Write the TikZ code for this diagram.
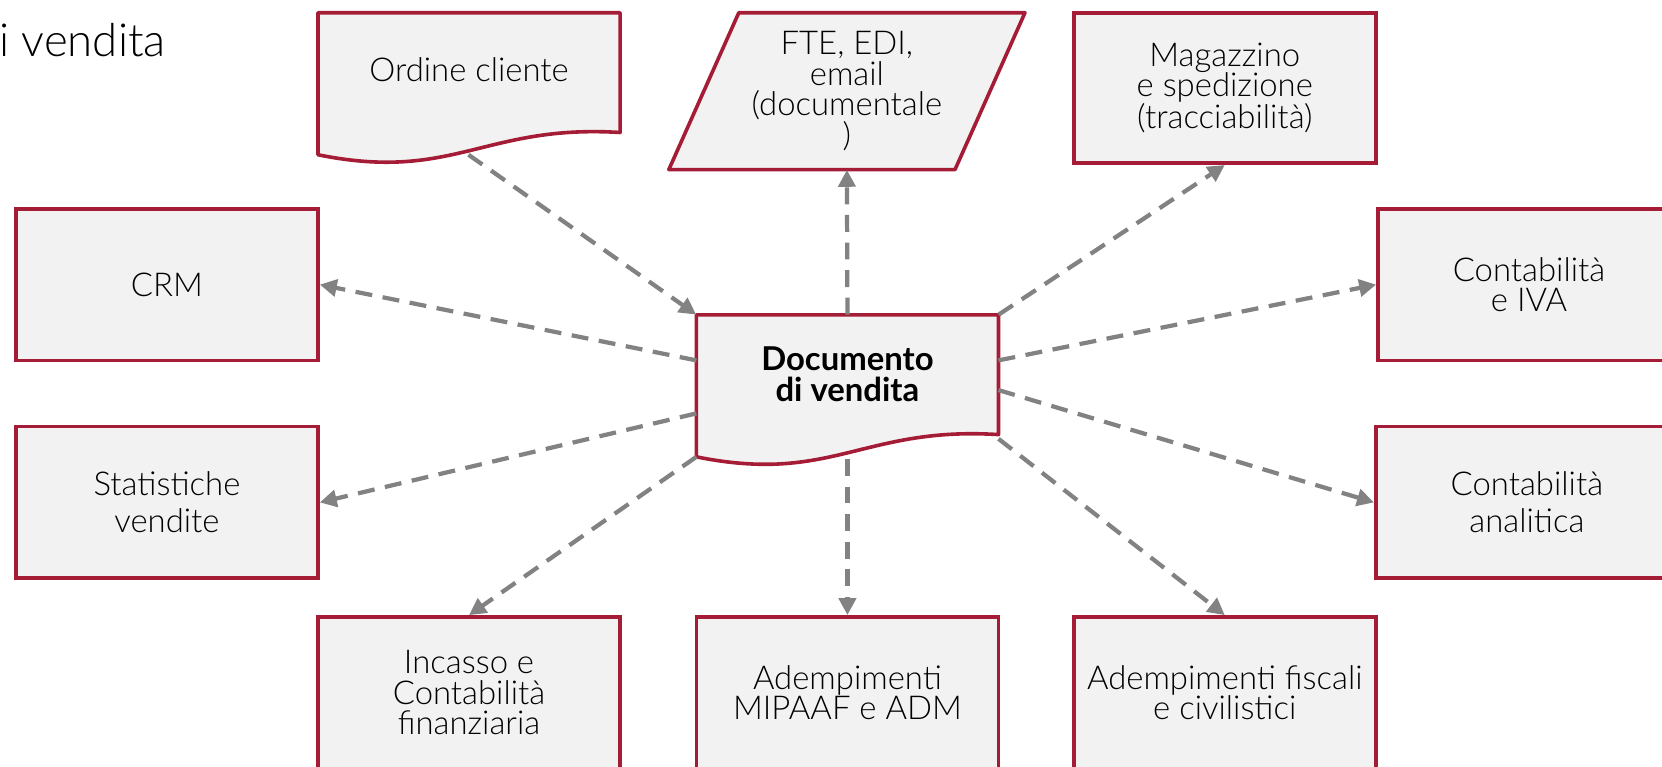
\documentclass[tikz,border=0pt]{standalone}
\usepackage{fontspec}
\setmainfont{Lato}[UprightFont=* Light, BoldFont=* Bold]
\usetikzlibrary{arrows.meta,calc}
\definecolor{brd}{HTML}{A51C36}
\definecolor{bg}{HTML}{F2F2F2}
\definecolor{arr}{HTML}{828282}
\begin{document}
\begin{tikzpicture}[x=1pt,y=-1pt,
  box/.style={draw=brd,fill=bg,line width=3.4pt,minimum width=285pt,minimum height=143pt,inner sep=0pt,align=center,font=\fontsize{31}{29}\selectfont},
  frame/.style={draw=brd,fill=bg,line width=3.4pt,line join=round},
  holder/.style={minimum width=285pt,minimum height=143pt,inner sep=0pt},
  txt/.style={font=\fontsize{31}{29}\selectfont,align=center,inner sep=0pt},
  link/.style={draw=arr,line width=4pt,dash pattern=on 16pt off 10pt,-{Triangle[length=16pt,width=16pt]}}]
\useasboundingbox (0,0) rectangle (1568,723);
\clip (0,0) rectangle (1568,723);

% title fragment
\node[anchor=base west,inner sep=0pt,font=\fontsize{43}{46}\selectfont] (title) at (-1,53) {i vendita};

% Ordine cliente (document shape)
\draw[frame,shift={(300,12)}] (0,0) -- (285,0) -- (285,113) .. controls (157,105) and (128,160) .. (0,134) -- cycle;
\node[txt] (ord) at (442.5,66) {Ordine cliente};
\coordinate (ordb) at (442,146);

% FTE parallelogram
\draw[frame] (697,12) -- (967,12) -- (901,160) -- (631,160) -- cycle;
\node[txt,minimum height=148pt] (fte) at (799,86) {FTE, EDI,\\email\\(documentale\\)};

% Magazzino
\node[box,minimum height=142pt] (mag) at (1155.5,83) {Magazzino\\e spedizione\\(tracciabilità)};

% side boxes
\node[box] (crm) at (157.5,268.5) {CRM};
\node[box] (iva) at (1442.5,268.5) {Contabilità\\e IVA};
\node[box] (stat) at (157.5,474) {Statistiche\\[6pt]vendite};
\node[box,minimum height=143pt] (ana) at (1440.5,474) {Contabilità\\[6pt]analitica};

% bottom boxes
\node[box] (inc) at (442.5,653.5) {Incasso e\\Contabilità\\finanziaria};
\node[box] (mip) at (799.5,653.5) {Adempimenti\\MIPAAF e ADM};
\node[box] (fis) at (1155.5,653.5) {Adempimenti fiscali\\e civilistici};

% central document
\draw[frame,shift={(657,297)}] (0,0) -- (285,0) -- (285,113) .. controls (157,105) and (128,160) .. (0,134) -- cycle;
\node[holder] (doc) at (799.5,368.5) {};
\node[txt,font=\fontsize{31}{29}\selectfont\bfseries] (doctxt) at (799.5,353) {Documento\\di vendita};
\coordinate (dl1) at (657,340);
\coordinate (dl2) at (657,390);
\coordinate (dl3) at (657,431);
\coordinate (dr1) at (942,340);
\coordinate (dr2) at (942,368);
\coordinate (dr3) at (942,414);
\coordinate (db) at (799.5,433);

% connectors
\draw[link] (ordb) -- (doc.north west);
\draw[link] (doc.north) -- (fte.south);
\draw[link] (doc.north east) -- (mag.south);
\draw[link] (dl1) -- (crm.east);
\draw[link] (dr1) -- (iva.west);
\draw[link] (dl2) -- (stat.east);
\draw[link] (dr2) -- (ana.west);
\draw[link] (dl3) -- (inc.north);
\draw[link] (db) -- (mip.north);
\draw[link] (dr3) -- (fis.north);
\end{tikzpicture}
\end{document}
